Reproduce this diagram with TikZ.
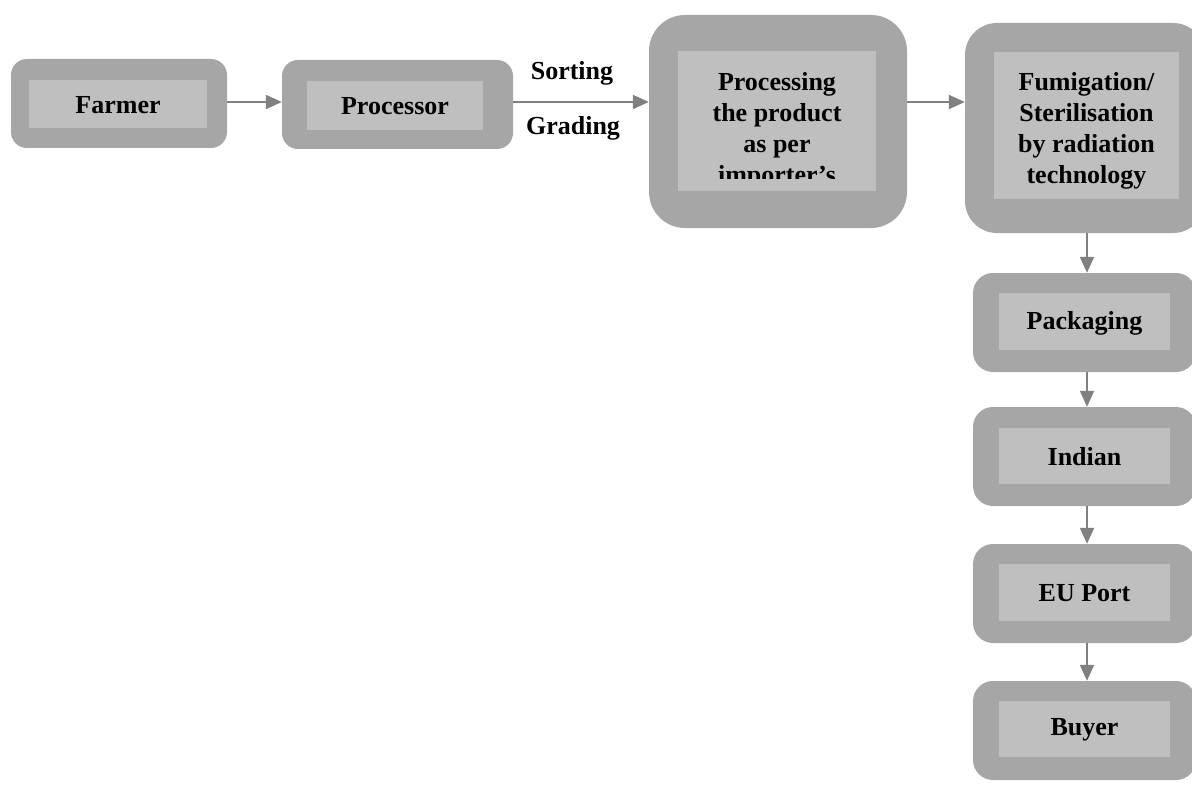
\documentclass[tikz,border=0pt]{standalone}
\usepackage{fontspec}
\setmainfont{Liberation Serif}
\usetikzlibrary{arrows.meta}
\definecolor{frame}{HTML}{A6A6A6}
\definecolor{panel}{HTML}{BFBFBF}
\definecolor{link}{HTML}{808080}
\tikzset{
  outerbox/.style={fill=frame, draw=none, rounded corners=#1, inner sep=0pt},
  outerbox/.default=16pt,
  innerbox/.style={fill=panel, draw=none, inner sep=0pt},
  lbl/.style={font=\fontsize{26}{31}\selectfont\bfseries, align=center, inner sep=0pt, text=black},
  conn/.style={draw=link, line width=2pt, -{Triangle[length=16pt,width=14pt]}},
}
\begin{document}
\begin{tikzpicture}[x=1pt,y=-1pt]
\useasboundingbox (0,0) rectangle (1192,789);

% flow row and column guides
\coordinate (row) at (0,102);
\coordinate (col) at (1087,0);

% Farmer
\node[outerbox, minimum width=216pt, minimum height=89pt] (farmer) at (119,103.5) {};
\node[innerbox, minimum width=178pt, minimum height=48pt] (farmerin) at (118,104) {};
\node[lbl] at (118,105) {Farmer};

% Processor
\node[outerbox, minimum width=231pt, minimum height=89pt] (processor) at (397.5,104.5) {};
\node[innerbox, minimum width=176pt, minimum height=49pt] (processorin) at (395,105.5) {};
\node[lbl] at (395,106.5) {Processor};

% Processing as per importer's requirements
\node[outerbox=36pt, minimum width=258pt, minimum height=213pt] (processing) at (778,121.5) {};
\node[innerbox, minimum width=198pt, minimum height=140pt] (processingin) at (777,121) {};
\begin{scope}
  \clip (678,51) rectangle (876,178.3);
  \node[lbl] (processingtxt) at (777,131) {Processing\\the product\\as per\\importer’s};
\end{scope}

% Fumigation / sterilisation
\node[outerbox=32pt, minimum width=240pt, minimum height=210pt] (fumig) at (1085,128) {};
\node[innerbox, minimum width=185pt, minimum height=147pt] (fumigin) at (1086.5,125.5) {};
\node[lbl] at (1086.5,130.5) {Fumigation/\\Sterilisation\\by radiation\\technology};

% Right-hand column
\node[outerbox=20pt, minimum width=223pt, minimum height=99pt] (pack) at (1084.5,322.5) {};
\node[innerbox, minimum width=171pt, minimum height=57pt] (packin) at (1084.5,321.5) {};
\node[lbl] at (1084.5,323) {Packaging};

\node[outerbox=20pt, minimum width=223pt, minimum height=99pt] (indian) at (1084.5,456.5) {};
\node[innerbox, minimum width=171pt, minimum height=56pt] (indianin) at (1084.5,456) {};
\node[lbl] at (1084.5,457) {Indian};

\node[outerbox=20pt, minimum width=223pt, minimum height=99pt] (euport) at (1084.5,593.5) {};
\node[innerbox, minimum width=171pt, minimum height=57pt] (euportin) at (1084.5,592.5) {};
\node[lbl] at (1084.5,593.5) {EU Port};

\node[outerbox=20pt, minimum width=223pt, minimum height=99pt] (buyer) at (1084.5,730.5) {};
\node[innerbox, minimum width=171pt, minimum height=56pt] (buyerin) at (1084.5,729) {};
\node[lbl] at (1084.5,730) {Buyer};

% Connectors
\draw[conn] (farmer.east |- row) -- (processor.west |- row);
\draw[conn] (processor.east |- row) -- (processing.west |- row);
\draw[conn] (processing.east |- row) -- (fumig.west |- row);
\draw[conn] (col |- fumig.south) -- (col |- pack.north);
\draw[conn] (col |- pack.south) -- (col |- indian.north);
\draw[conn] (col |- indian.south) -- (col |- euport.north);
\draw[conn] (col |- euport.south) -- (col |- buyer.north);

% Labels on the processor link
\node[lbl, anchor=base] (sorting) at (572,80) {Sorting};
\node[lbl, anchor=base] (grading) at (573,135) {Grading};
\end{tikzpicture}
\end{document}
